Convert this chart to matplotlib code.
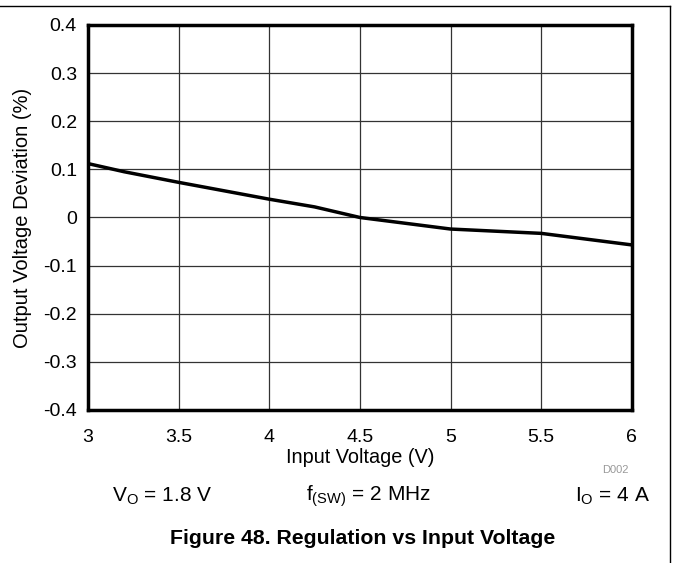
import matplotlib
matplotlib.use('Agg')
import matplotlib.pyplot as plt
from matplotlib.lines import Line2D

plt.rcParams['font.family'] = ['Liberation Sans', 'DejaVu Sans']
plt.rcParams['mathtext.fontset'] = 'custom'
plt.rcParams['mathtext.rm'] = 'Liberation Sans'
plt.rcParams['mathtext.it'] = 'Liberation Sans:italic'
plt.rcParams['mathtext.bf'] = 'Liberation Sans:bold'

# data
vin = [3.0, 3.2, 3.5, 4.0, 4.25, 4.5, 5.0, 5.5, 6.0]
deviation = [0.112, 0.095, 0.073, 0.038, 0.022, 0.0, -0.024, -0.033, -0.057]

xticks = [3, 3.5, 4, 4.5, 5, 5.5, 6]
xticklabels = ['3', '3.5', '4', '4.5', '5', '5.5', '6']
yticks = [-0.4, -0.3, -0.2, -0.1, 0, 0.1, 0.2, 0.3, 0.4]
yticklabels = ['-0.4', '-0.3', '-0.2', '-0.1', '0', '0.1', '0.2', '0.3', '0.4']

fig = plt.figure(figsize=(6.73, 5.63), dpi=100)
ax = fig.add_axes([0.1308, 0.2718, 0.808, 0.6838])

ax.plot(vin, deviation, color='black', lw=2.5, solid_capstyle='butt', zorder=3)

ax.set_xlim(3, 6)
ax.set_ylim(-0.4, 0.4)
ax.set_xticks(xticks)
ax.set_xticklabels(xticklabels)
ax.set_yticks(yticks)
ax.set_yticklabels(yticklabels)
ax.tick_params(length=0, labelsize=14, pad=8)
ax.tick_params(axis='x', pad=14)
ax.grid(True, color='#333333', lw=0.9)
for s in ax.spines.values():
    s.set_linewidth(2.5)
    s.set_zorder(4)

ax.set_xlabel('Input Voltage (V)', fontsize=14.3, labelpad=1)
ax.set_ylabel('Output Voltage Deviation (%)', fontsize=14.5, labelpad=8)

fig.text(615 / 673, 1 - 470 / 563, 'D002', fontsize=8, color='#999999',
         ha='center', va='center')
fig.text(162 / 673, 1 - 496 / 563, r'V$_\mathrm{O}$ = 1.8 V', fontsize=15,
         ha='center', va='center')
fig.text(368 / 673, 1 - 496 / 563, r'f$_\mathrm{(SW)}$ = 2 MHz', fontsize=15,
         ha='center', va='center')
fig.text(650 / 673, 1 - 496 / 563, r'I$_\mathrm{O}$ = 4 A', fontsize=15,
         ha='right', va='center')
fig.text(363 / 673, 1 - 539 / 563, 'Figure 48. Regulation vs Input Voltage',
         fontsize=15.3, fontweight='bold', ha='center', va='center')

# page frame lines (top and right)
fig.add_artist(Line2D([0, 670 / 673], [1 - 6 / 563, 1 - 6 / 563],
                      color='black', lw=1, transform=fig.transFigure))
fig.add_artist(Line2D([670 / 673, 670 / 673], [1 - 6 / 563, 0],
                      color='black', lw=1, transform=fig.transFigure))

fig.savefig('out.png', dpi=100)
